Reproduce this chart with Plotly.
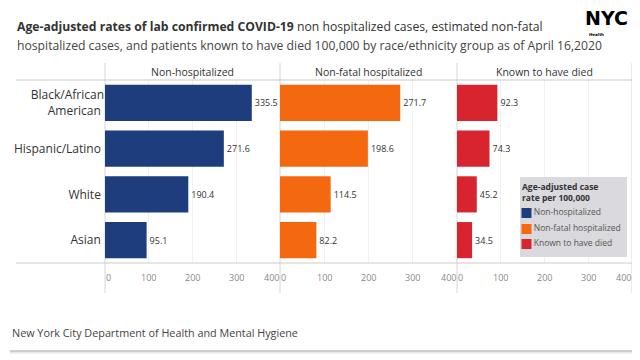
import plotly.graph_objects as go

groups = ["Black/African<br>American", "Hispanic/Latino", "White", "Asian"]
panels = ["Non-hospitalized", "Non-fatal hospitalized", "Known to have died"]
non_hosp = [335.5, 271.6, 190.4, 95.1]
nonfatal_hosp = [271.7, 198.6, 114.5, 82.2]
died = [92.3, 74.3, 45.2, 34.5]
series = [non_hosp, nonfatal_hosp, died]
colors = ["#1d3d7c", "#f4690f", "#d8242f"]
tick_vals = [0, 100, 200, 300, 400]
legend_title = ["Age-adjusted case", "rate per 100,000"]
title_line1_bold = "Age-adjusted rates of lab confirmed COVID-19"
title_line1_rest = " non hospitalized cases, estimated non-fatal"
title_line2 = "hospitalized cases, and patients known to have died 100,000 by race/ethnicity group as of April 16,2020"
footer = "New York City Department of Health and Mental Hygiene"

# page body has an 8px margin: work in reference pixel coords, shift by 8
OFF = 8
W, H = 640 - OFF, 360 - OFF
def px(x): return (x - OFF) / W
def py(y): return 1 - (y - OFF) / H

FONT = "Open Sans"
x_edges = [105, 280, 457, 632]
y_top, y_bot = 80, 263

fig = go.Figure()
for i, (name, vals, col) in enumerate(zip(panels, series, colors)):
    sfx = "" if i == 0 else str(i + 1)
    fig.add_trace(go.Bar(
        x=vals, y=groups, orientation="h", name=name,
        marker=dict(color=col, line=dict(width=0)),
        width=0.79,
        text=[f"{v:.1f}" for v in vals], textposition="outside",
        textfont=dict(size=9, color="#333", family=FONT),
        cliponaxis=False, showlegend=False,
        xaxis="x" + sfx, yaxis="y" + sfx,
    ))
    fig.update_layout(**{
        "xaxis" + sfx: dict(domain=[px(x_edges[i]), px(x_edges[i + 1])], range=[0, 400],
                            tickvals=tick_vals, showgrid=True, gridcolor="#f0f0f0",
                            zeroline=False, showline=False, showticklabels=False,
                            anchor="y" + sfx, fixedrange=True),
        "yaxis" + sfx: dict(domain=[py(y_bot), py(y_top)], autorange="reversed",
                            showticklabels=(i == 0), showgrid=False, zeroline=False,
                            tickfont=dict(size=12, color="#333", family=FONT),
                            anchor="x" + sfx, ticksuffix=" ", fixedrange=True),
    })
    fig.add_annotation(text=name, x=(px(x_edges[i]) + px(x_edges[i + 1])) / 2, y=py(72),
                       xref="paper", yref="paper", xanchor="center", yanchor="middle",
                       showarrow=False, borderpad=0,
                       font=dict(size=10.5, color="#333", family=FONT))
    # tick labels placed on the axis scale; end labels kept inside the panel
    for v in tick_vals:
        anchor = "left" if v == tick_vals[0] else ("right" if v == tick_vals[-1] else "center")
        fig.add_annotation(text=str(v), x=v, xref="x" + sfx, y=py(277), yref="paper",
                           xanchor=anchor, yanchor="middle", showarrow=False, borderpad=0,
                           font=dict(size=9, color="#888", family=FONT))

# overlay axis in page-pixel units for the legend
fig.update_layout(
    xaxis4=dict(domain=[0, 1], range=[OFF, 640], visible=False, fixedrange=True, anchor="y4"),
    yaxis4=dict(domain=[0, 1], range=[360, OFF], visible=False, fixedrange=True, anchor="x4"),
)
leg_y = [213, 229, 244]
fig.add_trace(go.Scatter(
    x=[526.5] * 3, y=leg_y, mode="markers+text", xaxis="x4", yaxis="y4",
    marker=dict(symbol="square", size=10, color=colors, line=dict(width=0)),
    text=panels, textposition="middle right",
    textfont=dict(size=8.5, color="#555", family=FONT),
    hoverinfo="skip", showlegend=False, cliponaxis=False,
))

shapes = []
for xe in x_edges:
    shapes.append(dict(type="line", xref="paper", yref="paper", x0=px(xe), x1=px(xe),
                       y0=py(293), y1=py(63), line=dict(color="#d6d6d6", width=1), layer="below"))
for ye in (y_top, y_bot):
    shapes.append(dict(type="line", xref="paper", yref="paper", x0=px(16), x1=px(633),
                       y0=py(ye), y1=py(ye), line=dict(color="#cccccc", width=1.2)))
# footer rule
shapes.append(dict(type="line", xref="paper", yref="paper", x0=px(10), x1=px(633),
                   y0=py(352), y1=py(352), line=dict(color="#e6e6e6", width=3)))
shapes.append(dict(type="line", xref="paper", yref="paper", x0=px(10), x1=px(633),
                   y0=py(351), y1=py(351), line=dict(color="#c4c4c4", width=1.5)))
# legend box
shapes.append(dict(type="rect", xref="x4", yref="y4", x0=520, x1=627,
                   y0=257, y1=177, fillcolor="#dad9dd", line=dict(width=0), layer="below"))
fig.update_layout(shapes=shapes)

fig.add_annotation(text="<b>" + "<br>".join(legend_title) + "</b>", x=px(521), y=py(180),
                   xref="paper", yref="paper", xanchor="left", yanchor="top", align="left",
                   showarrow=False, borderpad=0,
                   font=dict(size=8.5, color="#333", family=FONT))
fig.add_annotation(text="<b>" + title_line1_bold + "</b>" + title_line1_rest,
                   x=px(16), y=py(26), xref="paper", yref="paper", xanchor="left", yanchor="middle",
                   showarrow=False, borderpad=0, font=dict(size=12.2, color="#333", family=FONT))
fig.add_annotation(text=title_line2,
                   x=px(16), y=py(45), xref="paper", yref="paper", xanchor="left", yanchor="middle",
                   showarrow=False, borderpad=0, font=dict(size=12.2, color="#444", family=FONT))
fig.add_annotation(text="<b>NYC</b>",
                   x=px(629), y=py(6), xref="paper", yref="paper", xanchor="right", yanchor="top",
                   showarrow=False, borderpad=0,
                   font=dict(size=19, color="#000", family="DejaVu Sans"))
fig.add_annotation(text="<b>Health</b>",
                   x=px(588), y=py(30.5), xref="paper", yref="paper", xanchor="left", yanchor="top",
                   showarrow=False, borderpad=0,
                   font=dict(size=4, color="#000", family="DejaVu Sans"))
fig.add_annotation(text=footer,
                   x=px(11), y=py(332), xref="paper", yref="paper", xanchor="left", yanchor="middle",
                   showarrow=False, borderpad=0, font=dict(size=10.8, color="#444", family=FONT))

fig.update_layout(
    width=W, height=H, margin=dict(l=0, r=0, t=0, b=0),
    paper_bgcolor="white", plot_bgcolor="rgba(0,0,0,0)",
    showlegend=False,
)

fig.write_html("out.html")
